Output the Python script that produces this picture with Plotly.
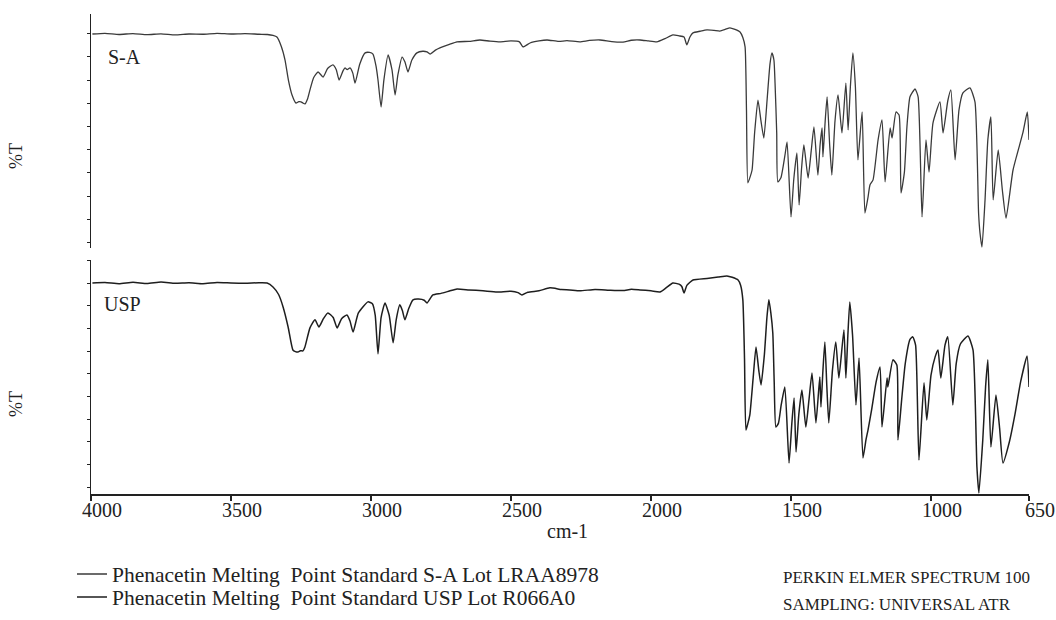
import plotly.graph_objects as go

# ---------------- data ----------------
# Upper spectrum: Phenacetin Melting Point Standard S-A Lot LRAA8978
wn_sa = [3995, 3950, 3900, 3850, 3800, 3750, 3700, 3650, 3600, 3550,
         3500, 3450, 3400, 3370, 3350, 3336, 3320, 3307, 3295, 3282,
         3268, 3258, 3250, 3243, 3236, 3226, 3218, 3205, 3189, 3171,
         3155, 3136, 3124, 3114, 3100, 3093, 3085, 3075, 3065, 3057,
         3040, 3021, 3005, 2993, 2982, 2975, 2964, 2954, 2939, 2925,
         2914, 2904, 2889, 2879, 2868, 2854, 2836, 2815, 2800, 2789,
         2770, 2754, 2720, 2693, 2650, 2611, 2575, 2539, 2500, 2470,
         2457, 2432, 2400, 2371, 2330, 2300, 2254, 2220, 2182, 2140,
         2100, 2070, 2039, 2010, 1979, 1950, 1922, 1900, 1882, 1872,
         1861, 1850, 1825, 1800, 1775, 1754, 1735, 1718, 1700, 1682,
         1672, 1664, 1659, 1654, 1646, 1639, 1630, 1618, 1607, 1597,
         1585, 1575, 1568, 1561, 1557, 1551, 1547, 1536, 1522, 1514,
         1500, 1490, 1479, 1471, 1462, 1454, 1439, 1428, 1418, 1404,
         1396, 1389, 1386, 1378, 1371, 1362, 1354, 1343, 1332, 1318,
         1304, 1296, 1288, 1279, 1270, 1261, 1246, 1236, 1225, 1218,
         1207, 1189, 1175, 1164, 1146, 1139, 1125, 1114, 1107, 1095,
         1086, 1075, 1057, 1046, 1032, 1018, 1007, 993, 968, 957,
         940, 929, 914, 900, 886, 861, 843, 830, 825, 818,
         807, 797, 786, 778, 760, 745, 732, 707, 672, 656,
         650]
t_sa = [93.0, 93.3, 92.8, 93.2, 92.7, 93.1, 92.6, 93.0, 92.9, 93.3,
        93.0, 93.2, 92.9, 92.8, 92.4, 91.7, 87.5, 81.7, 73.0, 66.5,
        63.0, 63.6, 63.5, 63.0, 62.6, 65.0, 68.7, 74.0, 76.5, 74.3,
        78.0, 79.6, 77.5, 73.0, 77.0, 78.3, 77.5, 78.3, 76.0, 71.7,
        80.0, 84.8, 85.0, 84.3, 79.0, 73.0, 61.3, 73.0, 83.9, 77.4,
        66.5, 75.2, 83.0, 80.9, 76.5, 81.7, 84.8, 85.5, 85.2, 84.3,
        86.0, 87.0, 88.5, 89.6, 89.8, 90.4, 89.9, 89.6, 90.0, 89.6,
        87.4, 89.1, 90.0, 90.4, 89.8, 90.1, 89.6, 90.2, 90.4, 89.7,
        89.5, 90.3, 90.4, 90.0, 89.6, 91.0, 92.6, 92.2, 91.7, 88.3,
        91.7, 93.5, 94.2, 94.8, 94.6, 94.3, 95.0, 95.7, 95.0, 93.9,
        91.5, 87.4, 60.0, 28.3, 30.9, 33.9, 50.0, 64.3, 55.0, 47.8,
        65.0, 80.0, 84.8, 81.7, 71.7, 50.0, 28.7, 30.5, 40.0, 46.1,
        13.5, 30.0, 41.3, 18.7, 35.0, 44.8, 30.4, 42.0, 52.6, 31.7,
        45.0, 52.2, 39.6, 55.0, 65.7, 45.0, 31.7, 55.0, 66.5, 50.0,
        71.7, 51.3, 70.0, 84.8, 70.0, 38.3, 59.1, 15.2, 22.0, 27.4,
        29.6, 47.0, 55.7, 28.7, 52.2, 47.8, 59.1, 57.8, 23.9, 33.0,
        52.6, 65.7, 69.1, 65.7, 13.5, 47.0, 33.0, 54.3, 63.5, 50.0,
        64.0, 68.7, 38.3, 60.0, 67.4, 69.6, 63.5, 15.0, 6.5, 0.4,
        20.9, 47.0, 57.0, 20.9, 42.6, 25.0, 13.0, 33.9, 50.0, 59.1,
        47.0]

# Lower spectrum: Phenacetin Melting Point Standard USP Lot R066A0
wn_usp = [3995, 3950, 3900, 3850, 3800, 3750, 3700, 3650, 3600, 3550,
          3500, 3450, 3400, 3371, 3350, 3330, 3314, 3296, 3279, 3270,
          3261, 3252, 3243, 3236, 3218, 3200, 3186, 3170, 3154, 3135,
          3121, 3105, 3086, 3075, 3064, 3045, 3011, 2995, 2985, 2975,
          2964, 2950, 2935, 2921, 2910, 2897, 2888, 2879, 2865, 2850,
          2830, 2810, 2800, 2779, 2750, 2720, 2693, 2650, 2600, 2550,
          2500, 2475, 2461, 2440, 2400, 2361, 2320, 2290, 2254, 2200,
          2150, 2100, 2070, 2039, 2000, 1968, 1945, 1922, 1900, 1890,
          1882, 1872, 1850, 1800, 1760, 1729, 1710, 1689, 1680, 1672,
          1666, 1661, 1654, 1647, 1635, 1625, 1615, 1607, 1595, 1586,
          1579, 1572, 1565, 1560, 1554, 1545, 1535, 1522, 1507, 1497,
          1489, 1482, 1472, 1461, 1447, 1436, 1425, 1411, 1402, 1397,
          1393, 1386, 1379, 1372, 1365, 1352, 1340, 1329, 1311, 1304,
          1297, 1290, 1280, 1268, 1257, 1243, 1232, 1225, 1212, 1196,
          1182, 1175, 1157, 1154, 1136, 1122, 1118, 1105, 1092, 1075,
          1065, 1055, 1043, 1025, 1015, 1000, 985, 975, 965, 950,
          940, 922, 910, 895, 868, 850, 836, 829, 815, 805,
          797, 786, 768, 755, 743, 720, 700, 680, 657, 650]
t_usp = [93.0, 93.2, 92.7, 93.3, 92.8, 93.4, 92.9, 93.1, 92.7, 93.2,
         93.0, 92.9, 93.1, 93.0, 91.3, 88.0, 82.6, 73.9, 63.9, 63.2,
         63.0, 63.6, 63.5, 65.2, 73.5, 77.0, 73.9, 77.5, 80.0, 78.0,
         73.5, 77.5, 79.1, 76.5, 71.7, 80.0, 84.8, 84.0, 79.0, 62.2,
         78.0, 84.3, 79.0, 67.0, 77.0, 83.5, 81.0, 77.0, 82.0, 85.7,
         86.0, 85.5, 84.3, 87.8, 88.5, 89.5, 90.4, 90.0, 89.6, 89.1,
         89.4, 88.8, 87.8, 89.0, 89.6, 90.9, 90.2, 90.0, 89.6, 90.2,
         89.9, 89.7, 90.3, 90.0, 89.6, 89.1, 91.0, 93.0, 92.5, 91.5,
         88.7, 92.0, 94.3, 95.0, 95.6, 96.1, 95.5, 94.3, 92.0, 85.7,
         60.0, 29.1, 32.0, 35.7, 52.0, 65.2, 55.0, 48.7, 62.0, 78.0,
         85.7, 80.0, 71.3, 50.0, 30.4, 32.0, 40.0, 47.8, 14.8, 32.0,
         43.0, 19.6, 36.0, 46.5, 30.4, 42.0, 53.9, 32.2, 45.0, 52.2,
         39.1, 55.0, 67.4, 48.0, 32.2, 55.0, 67.4, 51.7, 72.6, 51.7,
         70.0, 84.8, 70.0, 40.0, 60.4, 17.0, 25.0, 29.1, 38.0, 50.0,
         56.5, 30.4, 51.7, 47.8, 59.6, 57.4, 24.8, 42.0, 58.0, 68.5,
         69.6, 66.0, 16.1, 49.6, 33.5, 53.0, 61.0, 63.9, 51.7, 66.0,
         69.6, 40.0, 58.0, 66.5, 70.0, 63.9, 13.0, 1.7, 25.0, 48.0,
         59.6, 21.7, 44.3, 30.0, 14.8, 24.0, 36.0, 50.0, 61.3, 47.8]

x_tick_vals = [4000, 3500, 3000, 2500, 2000, 1500, 1000, 650]
x_tick_text = ["4000", "3500", "3000", "2500", "2000", "1500", "1000", "650"]

series_names = ["Phenacetin Melting  Point Standard S-A Lot LRAA8978",
                "Phenacetin Melting  Point Standard USP Lot R066A0"]
panel_labels = ["S-A", "USP"]

# ---------------- figure ----------------
W, H = 1056, 620
SERIF = "Liberation Serif, Times New Roman, serif"
INK = "#222222"

def px_x(p):
    return p / W

def px_y(p):
    return 1 - p / H

fig = go.Figure()
fig.add_trace(go.Scatter(x=wn_sa, y=t_sa, mode="lines", name=series_names[0],
                         line=dict(color="#3a3a3a", width=1.3, shape="spline", smoothing=0.5),
                         xaxis="x", yaxis="y", legend="legend"))
fig.add_trace(go.Scatter(x=wn_usp, y=t_usp, mode="lines", name=series_names[1],
                         line=dict(color="#1e1e1e", width=1.5, shape="spline", smoothing=0.5),
                         xaxis="x2", yaxis="y2", legend="legend2"))

xdom = [px_x(91), px_x(1029)]
common_y = dict(showline=True, linecolor=INK, linewidth=1.5, ticks="outside",
                ticklen=3, tickwidth=1, tickcolor=INK, showticklabels=False,
                showgrid=False, zeroline=False, tickmode="linear", fixedrange=True,
                automargin=False)

leg_common = dict(xanchor="left", yanchor="middle", bgcolor="rgba(0,0,0,0)",
                  font=dict(family=SERIF, size=21.5, color=INK), borderwidth=0)

fig.update_layout(
    template="none",
    width=W, height=H,
    margin=dict(l=0, r=0, t=0, b=0, autoexpand=False),
    paper_bgcolor="white", plot_bgcolor="white",
    font=dict(family=SERIF, color=INK, size=19),
    showlegend=True,
    legend=dict(x=px_x(72), y=px_y(574), **leg_common),
    legend2=dict(x=px_x(72), y=px_y(597), **leg_common),
    xaxis=dict(domain=xdom, range=[4000, 650], anchor="y", visible=False,
               showgrid=False, zeroline=False, automargin=False),
    yaxis=dict(domain=[px_y(248), px_y(14)], range=[0, 101.7], anchor="x",
               tick0=2.3, dtick=10.1, **common_y),
    xaxis2=dict(domain=xdom, range=[4000, 650], anchor="y2", showline=True,
                linecolor=INK, linewidth=1.5, ticks="outside", ticklen=5,
                tickwidth=1.2, tickcolor=INK, tickmode="array",
                tickvals=x_tick_vals, ticktext=x_tick_text, ticklabelshift=-11,
                ticklabelstandoff=-8,
                tickfont=dict(family=SERIF, size=20, color=INK),
                showgrid=False, zeroline=False, automargin=False),
    yaxis2=dict(domain=[px_y(494), px_y(260)], range=[1.3, 103.0], anchor="x2",
                tick0=4.3, dtick=9.85, **common_y),
)

ann = []
ann.append(dict(text=panel_labels[0], x=px_x(106), y=px_y(57), xref="paper", yref="paper",
                xanchor="left", yanchor="middle", showarrow=False,
                font=dict(family=SERIF, size=20, color=INK)))
ann.append(dict(text=panel_labels[1], x=px_x(102), y=px_y(304), xref="paper", yref="paper",
                xanchor="left", yanchor="middle", showarrow=False,
                font=dict(family=SERIF, size=20, color=INK)))
for yc in (156, 404):
    ann.append(dict(text="%T", x=px_x(16), y=px_y(yc), xref="paper", yref="paper",
                    xanchor="center", yanchor="middle", textangle=-90, showarrow=False,
                    font=dict(family=SERIF, size=18, color=INK)))
ann.append(dict(text="cm-1", x=px_x(567), y=px_y(531), xref="paper", yref="paper",
                xanchor="center", yanchor="middle", showarrow=False,
                font=dict(family=SERIF, size=20, color=INK)))
ann.append(dict(text="PERKIN ELMER SPECTRUM 100", x=px_x(781), y=px_y(577),
                xref="paper", yref="paper", xanchor="left", yanchor="middle",
                showarrow=False, font=dict(family=SERIF, size=17, color=INK)))
ann.append(dict(text="SAMPLING: UNIVERSAL ATR", x=px_x(781), y=px_y(604),
                xref="paper", yref="paper", xanchor="left", yanchor="middle",
                showarrow=False, font=dict(family=SERIF, size=17, color=INK)))
fig.update_layout(annotations=ann)

fig.write_html("out.html",
               config=dict(displayModeBar=False, staticPlot=True),
               post_script="document.body.style.margin='0';document.body.style.overflow='hidden';")
